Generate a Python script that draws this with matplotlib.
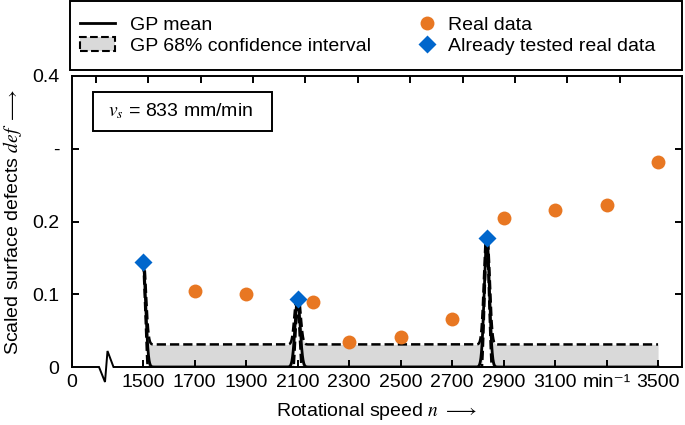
import numpy as np
import matplotlib
matplotlib.use("Agg")
import matplotlib.pyplot as plt
from matplotlib.patches import Patch, Rectangle
from matplotlib.lines import Line2D

plt.rcParams['font.family'] = ['Liberation Sans', 'DejaVu Sans']
plt.rcParams['mathtext.fontset'] = 'stix'
plt.rcParams['font.size'] = 14

# data
real_n = [1700, 1900, 2160, 2300, 2500, 2700, 2900, 3100, 3300, 3500]
real_def = [0.104, 0.101, 0.089, 0.034, 0.041, 0.066, 0.205, 0.216, 0.222, 0.282]
tested_n = [1500, 2100, 2835]
tested_def = [0.144, 0.093, 0.178]
gp_sd = 0.031        # prior std of the GP far from tested points
gp_len = 10.0        # RBF length scale (min^-1)

xtick_vals = [1224, 1500, 1700, 1900, 2100, 2300, 2500, 2700, 2900, 3100, 3300, 3500]
xtick_labels = ['0', '1500', '1700', '1900', '2100', '2300', '2500', '2700',
                '2900', '3100', 'min⁻¹', '3500']
ytick_vals = [0, 0.1, 0.2, 0.3, 0.4]
ytick_labels = ['0', '0.1', '0.2', '-', '0.4']

orange = '#E87722'
blue = '#0066CC'
band_col = '#D9D9D9'

# GP posterior from the tested points
def rbf(a, b):
    return gp_sd**2 * np.exp(-(np.subtract.outer(a, b))**2 / (2 * gp_len**2))

X = np.array(tested_n, float)
Y = np.array(tested_def)
xs = np.linspace(1500, 3500, 8001)
K = rbf(X, X) + 1e-10 * np.eye(len(X))
Ks = rbf(xs, X)
Kinv = np.linalg.inv(K)
mu = Ks @ Kinv @ Y
var = gp_sd**2 - np.einsum('ij,jk,ik->i', Ks, Kinv, Ks)
sd = np.sqrt(np.clip(var, 0, None))
lo = mu - sd
hi = mu + sd

W, H = 685, 425
fig = plt.figure(figsize=(W/100, H/100), dpi=100)
ax = fig.add_axes([72/W, 1 - 367/H, 610/W, 291/H])

ax.fill_between(xs, lo, hi, color=band_col, lw=0, zorder=1)
ax.plot(xs, hi, color='black', ls='--', lw=1.8, zorder=2)
ax.plot(xs, lo, color='black', ls='--', lw=1.8, zorder=2)
ax.plot(xs, mu, color='black', lw=2, zorder=3)
ax.plot(real_n, real_def, 'o', color=orange, ms=10, mec='none', zorder=4)
ax.plot(tested_n, tested_def, 'D', color=blue, ms=9, mec='none', zorder=5)

ax.set_xlim(1224, 3593)
ax.set_ylim(0, 0.4)
ax.set_xticks(xtick_vals)
ax.set_xticklabels(xtick_labels)
ax.set_yticks(ytick_vals)
ax.set_yticklabels(ytick_labels)
ax.tick_params(direction='in', length=5, width=1.4, right=True, labelsize=14, pad=5)
ax.tick_params(axis='y', pad=9)
ax.xaxis.get_major_ticks()[0].tick1line.set_visible(False)
for t in ax.yaxis.get_major_ticks():
    if t.get_loc() in (0, 0.4):
        t.tick1line.set_visible(False)
        t.tick2line.set_visible(False)

for s in ['left', 'right', 'top']:
    ax.spines[s].set_linewidth(1.4)
ax.spines['bottom'].set_visible(False)

# bottom spine with the axis break
bx = np.array([72, 99, 105, 107.5, 113.5, 682])
by = np.array([367, 367, 382, 351, 367, 367])
fig.add_artist(Line2D(bx / W, 1 - by / H, color='black', lw=1.4,
                      transform=fig.transFigure, solid_joinstyle='miter'))

# top ticks
ax2 = ax.twiny()
ax2.set_xlim(0, 1)
ax2.set_xticks(np.linspace(0.039, 0.898, 11))
ax2.set_xticklabels([])
ax2.tick_params(direction='in', length=5, width=1.4, top=True, bottom=False)
for s in ax2.spines.values():
    s.set_visible(False)

ax.set_xlabel('Rotational speed $n$ $\\longrightarrow$', fontsize=14, labelpad=7)
ax.set_ylabel('Scaled surface defects $def$ $\\longrightarrow$', fontsize=14, labelpad=6)

ax.add_patch(Rectangle((21/610, 236/291), 179/610, 39/291, transform=ax.transAxes,
                       fc='white', ec='black', lw=1.4, zorder=6))
ax.text(36/610, 255.5/291, '$v_s$ = 833 mm/min', transform=ax.transAxes,
        fontsize=14, va='center', ha='left', zorder=7)

# legend: frame drawn separately, two columns as two legends
fig.add_artist(Rectangle((70/W, 1 - 70/H), 612/W, 69/H, transform=fig.transFigure,
                         fc='white', ec='black', lw=1.4))
col1 = fig.legend([Line2D([], [], color='black', lw=2),
                   Patch(facecolor=band_col, edgecolor='black', ls='--', lw=1.5)],
                  ['GP mean', 'GP 68% confidence interval'],
                  loc='center left', bbox_to_anchor=(80/W, 1 - 35.5/H),
                  frameon=False, fontsize=14, borderpad=0, borderaxespad=0,
                  labelspacing=0.2, handlelength=1.8, handletextpad=0.77)
col2 = fig.legend([Line2D([], [], ls='none', marker='o', color=orange, ms=10, mec='none'),
                   Line2D([], [], ls='none', marker='D', color=blue, ms=9, mec='none')],
                  ['Real data', 'Already tested real data'],
                  loc='center left', bbox_to_anchor=(417/W, 1 - 35.5/H),
                  frameon=False, fontsize=14, borderpad=0, borderaxespad=0,
                  labelspacing=0.2, handlelength=1.0, handletextpad=0.58)

fig.savefig('out.png', dpi=100)
